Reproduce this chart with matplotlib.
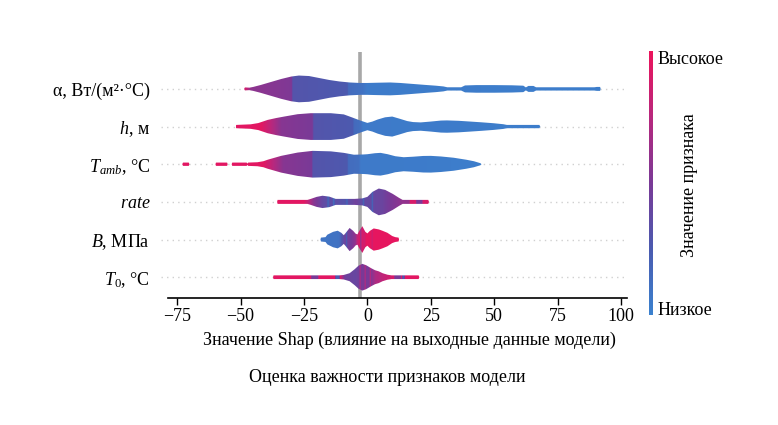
import numpy as np
import matplotlib
matplotlib.use("Agg")
import matplotlib.pyplot as plt
from matplotlib.colors import LinearSegmentedColormap
from matplotlib.patches import Polygon

plt.rcParams['font.family'] = ['Liberation Serif', 'DejaVu Serif']
plt.rcParams['mathtext.fontset'] = 'custom'
plt.rcParams['mathtext.rm'] = 'Liberation Serif'
plt.rcParams['mathtext.it'] = 'Liberation Serif:italic'
plt.rcParams['axes.unicode_minus'] = True

# ---------------- data ----------------
features = [r"$T_0$, °C", r"$B$, МПа", r"$rate$", r"$T_{amb}$, °C", r"$h$, м", "α, Вт/(м²·°C)"]

# violin outlines: x (SHAP value) and relative width (density)
t0_x = [-37.2, -37, -11, -9.3, -7, -5, -3.5, -2, -0.5, 1.5, 3, 4.5, 6, 7.9, 9.5, 20.2, 20.5]
t0_w = [0, 3.7, 3.7, 4.5, 8, 16, 23, 26.7, 24, 18, 14, 11.7, 8, 5, 3.7, 3.7, 0]

b_x = [-18.5, -18.3, -16.5, -15.8, -13.5, -11.7, -10.3, -9.3, -8.5, -7, -5.6, -4.6, -3.9, -3.4, -2,
       -0.8, 0, 1, 2.5, 4.5, 5.9, 7.9, 9.8, 11, 12.3, 12.5]
b_w = [0, 4, 5, 10, 16, 18.3, 14, 9, 14, 24, 18, 12, 10.7, 16, 27.7,
       16, 12.7, 18, 23, 21, 18.3, 14, 7.3, 5, 4, 0]

rate_x = [-35.6, -35.4, -23.6, -22.3, -20, -17.7, -15, -12.5, -5, -2, 0, 2, 4.5, 7, 10, 12.5, 13.9, 24, 24.3]
rate_w = [0, 4, 4, 6, 10, 12.3, 10.5, 6, 6, 7, 10, 20, 26.7, 24, 16, 8, 4, 4, 0]

tamb_x = [-73, -72.7, -70.4, -70.2, -59.9, -59.7, -55.3, -55.1, -53.5, -53.3, -47.6, -47.3, -47.0,
          -43.3, -41, -39.3, -34, -27.5, -21.6, -14.4, -9.3, -5.3, -1.5, 0, 3, 5.2, 8, 11, 14.3,
          18, 22, 25, 29, 34, 39, 42, 44.6, 45]
tamb_w = [0, 3.3, 3.3, 0, 0, 3.3, 3.3, 0, 0, 3.3, 3.3, 1.2, 3.3,
          4, 6, 9, 16.7, 23.3, 26.7, 25.7, 22.7, 19, 19.5, 20, 22, 22.7, 20, 16, 14,
          15, 16.5, 16.7, 15.5, 13, 9, 6, 2, 0]

h_x = [-52, -51.7, -46, -43, -39.3, -36, -32.8, -27.5, -22.3, -14.4, -9.3, -5.9, -2.6, 0, 2, 4, 7,
       9.8, 12.5, 15.7, 18, 21, 25, 29, 31.4, 36, 40.6, 45, 49.7, 53.6, 55, 67.8, 68.2]
h_w = [0, 3.3, 4.5, 7, 13.3, 17, 20, 24.7, 26.7, 26.7, 24.3, 18, 11.7, 7.3, 10, 14, 18.5,
       20, 16, 11, 9, 8.3, 10, 12, 12.3, 11.5, 10, 8.5, 6.7, 4.7, 3.3, 3.3, 0]

a_x = [-48.6, -48.3, -46.5, -45, -42, -38, -34, -30, -27, -23, -19, -15, -11, -7, -3, 0, 4, 9, 13,
       18, 23, 27, 30, 31.5, 37, 38.5, 43, 50, 57, 61.5, 62.5, 63.5, 65.5, 66.5, 89.5, 90.5, 91.8, 92]
a_w = [0, 3, 2.5, 4, 8, 14, 20, 25, 27, 26, 22, 18, 15, 13, 12, 12, 12.5, 13, 12,
       10, 8, 6.5, 5, 3.3, 3.3, 7, 7.7, 7.7, 7.3, 6.5, 3, 6, 6, 3.3, 3.3, 4, 4, 0]

# feature value (0 = low, 1 = high) along x
t0_cx = [-37, -22.5, -22, -19.6, -19.2, -13, -12.5, -11.3, -10.8, -9, -5, -3.4, -3, -2.6, -1.5, -1,
         -0.6, 0.5, 1, 1.5, 3, 8, 10.2, 10.6, 12.8, 13.2, 13.8, 14.3, 14.8, 20.5]
t0_cv = [0.95, 0.95, 0.5, 0.5, 0.95, 0.95, 0.25, 0.25, 0.9, 0.45, 0.4, 0.45, 0.75, 0.5, 0.5, 0.75,
         0.5, 0.5, 0.75, 0.55, 0.7, 0.85, 0.9, 0.5, 0.5, 0.9, 0.3, 0.3, 0.95, 0.95]

b_cx = [-18.5, -11, -9.8, -8.6, -8.1, -7.6, -6, -4.6, -3.8, -3, -2.5, -2, -1.2, -0.3, 1.5, 2, 2.5, 12.5]
b_cv = [0.08, 0.1, 0.3, 0.45, 0.25, 0.45, 0.5, 0.6, 0.8, 0.9, 0.6, 0.9, 0.85, 0.97, 0.97, 0.85, 0.97, 0.97]

rate_cx = [-35.6, -25, -21, -17.5, -16, -15.5, -14.8, -13.8, -13.3, -12.5, -8.5, -8, -7.5, -4.5,
           -2, -1.5, -1, 1.5, 2, 2.5, 6, 8, 12, 14, 16.5, 17, 19, 19.5, 21.5, 22, 24.3]
rate_cv = [0.95, 0.95, 0.55, 0.38, 0.35, 0.15, 0.35, 0.35, 0.15, 0.35, 0.3, 0.15, 0.35, 0.45,
           0.35, 0.2, 0.38, 0.38, 0.2, 0.4, 0.42, 0.48, 0.55, 0.6, 0.6, 0.9, 0.9, 0.5, 0.5, 0.9, 0.9]

tamb_cx = [-73, -41, -33, -22, -21.4, -8, -7.4, -3.5, -2.5, 45]
tamb_cv = [0.95, 0.95, 0.55, 0.5, 0.3, 0.27, 0.14, 0.12, 0.05, 0.03]

h_cx = [-52, -42, -34, -22, -21.4, -6, -5.4, -3, -2, 68.2]
h_cv = [0.95, 0.95, 0.55, 0.5, 0.3, 0.26, 0.15, 0.12, 0.05, 0.03]

a_cx = [-48.6, -47.5, -46, -30, -29.3, -8, -7.4, -2, 0, 92]
a_cv = [0.9, 0.8, 0.58, 0.52, 0.3, 0.26, 0.15, 0.1, 0.04, 0.03]

rows = [(t0_x, t0_w, t0_cx, t0_cv), (b_x, b_w, b_cx, b_cv), (rate_x, rate_w, rate_cx, rate_cv),
        (tamb_x, tamb_w, tamb_cx, tamb_cv), (h_x, h_w, h_cx, h_cv), (a_x, a_w, a_cx, a_cv)]

ref_line = -2.9
xticks = [-75, -50, -25, 0, 25, 50, 75, 100]

# ---------------- plot ----------------
cmap = LinearSegmentedColormap.from_list(
    "shap_like", [(0.0, "#3b82cf"), (0.25, "#4b5bb0"), (0.5, "#7a3a97"), (0.75, "#b8287e"), (1.0, "#ec145c")])

fig = plt.figure(figsize=(7.78, 4.25), dpi=100)
ax = fig.add_axes([168.3 / 778, 1 - 298.3 / 425, (627.3 - 168.3) / 778, (298.3 - 52) / 425])

xmin, xmax = -78.5, 102.5
ymin, ymax = -0.56, 5.98
max_half = 0.355
fs = 13

for i in range(len(features)):
    ax.plot([-81.5, xmax], [i, i], ls=(0, (1, 3)), color="#d0d0d0", lw=1, zorder=0, clip_on=False)

ax.axvline(ref_line, color="#a8a8a8", lw=2.6, zorder=1)

for i, (vx, vw, cx, cv) in enumerate(rows):
    vx = np.asarray(vx, float)
    vw = np.asarray(vw, float)
    xs = np.linspace(vx[0], vx[-1], 1200)
    hw = np.interp(xs, vx, vw) / vw.max() * max_half
    verts = np.concatenate([np.c_[xs, i + hw], np.c_[xs[::-1], i - hw[::-1]]])
    patch = Polygon(verts, closed=True, facecolor="none", edgecolor="none")
    ax.add_patch(patch)
    vals = np.interp(xs, cx, cv)
    im = ax.imshow(vals[None, :], cmap=cmap, vmin=0, vmax=1, aspect="auto",
                   extent=[xs[0], xs[-1], i - 0.5, i + 0.5], interpolation="nearest", zorder=2)
    im.set_clip_path(patch)

ax.set_xlim(xmin, xmax)
ax.set_ylim(ymin, ymax)
ax.set_xticks(xticks)
ax.set_yticks(range(len(features)))
ax.set_yticklabels(features, fontsize=fs)
ax.tick_params(axis="y", length=0, pad=13)
ax.tick_params(axis="x", labelsize=fs, length=5, width=1, direction="out", pad=2)
for s in ["left", "top", "right"]:
    ax.spines[s].set_visible(False)
ax.spines["bottom"].set_linewidth(1.2)
fig.text(409.5 / 778, 1 - 340 / 425, "Значение Shap (влияние на выходные данные модели)",
         ha="center", va="center", fontsize=fs)

# colorbar
cax = fig.add_axes([648.5 / 778, 1 - 315 / 425, 3.5 / 778, (315 - 51) / 425])
grad = np.linspace(0, 1, 256)[:, None]
cax.imshow(grad, cmap=cmap, aspect="auto", origin="lower", extent=[0, 1, 0, 1])
cax.set_xticks([])
cax.set_yticks([0.025, 0.975])
cax.set_yticklabels(["Низкое", "Высокое"], fontsize=fs)
cax.yaxis.tick_right()
cax.tick_params(axis="y", length=0, pad=4)
for s in cax.spines.values():
    s.set_visible(False)
fig.text(690 / 778, 1 - 185 / 425, "Значение признака", rotation=90, ha="center", va="center", fontsize=fs)

fig.text(387 / 778, 1 - 378 / 425, "Оценка важности признаков модели", ha="center", va="center", fontsize=fs)

fig.savefig("out.png", dpi=100)
